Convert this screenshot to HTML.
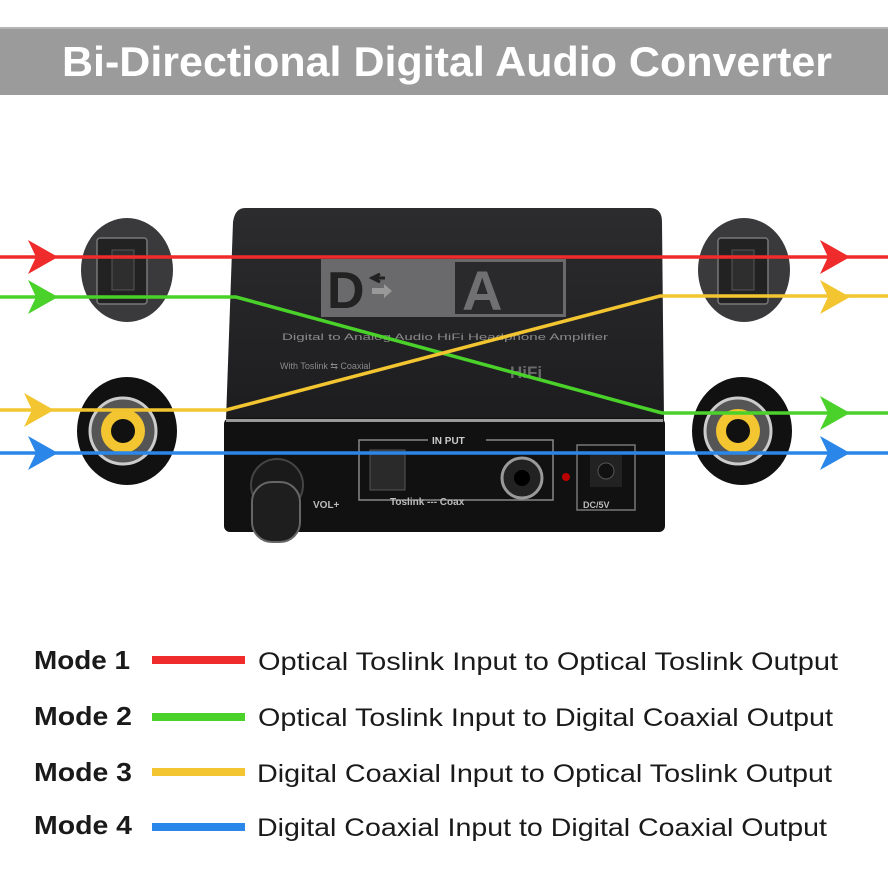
<!DOCTYPE html>
<html><head><meta charset="utf-8"><style>
html,body{margin:0;padding:0;background:#fff}
svg{display:block}
text{font-family:"Liberation Sans",sans-serif}
</style></head><body>
<svg width="888" height="888" viewBox="0 0 888 888" xmlns="http://www.w3.org/2000/svg">
<rect width="888" height="888" fill="#fff"/>
<rect x="0" y="27" width="888" height="68" fill="#9b9b9b"/>
<rect x="0" y="27" width="888" height="2" fill="#b5b5b5"/>
<text x="62" y="76" font-size="42" font-weight="bold" fill="#fff" textLength="770" lengthAdjust="spacingAndGlyphs">Bi-Directional Digital Audio Converter</text>

<defs>
<linearGradient id="top" x1="0" y1="0" x2="0" y2="1"><stop offset="0" stop-color="#2c2c2e"/><stop offset="1" stop-color="#1d1d1f"/></linearGradient>
</defs>
<path d="M245 208 H650 Q662 208 662 222 L664 420 H226 L233 222 Q235 208 245 208 Z" fill="url(#top)"/>
<rect x="321" y="259" width="245" height="58" fill="#6a6a6c"/>
<rect x="455" y="262" width="108" height="52" fill="#2a2a2c"/>
<text x="327" y="308" font-size="52" font-weight="bold" fill="#222">D</text>
<path d="M385 278 h-14 M380 274 l-8 4 8 4" stroke="#222" stroke-width="3" fill="none"/>
<rect x="372" y="288" width="12" height="6" fill="#999"/><path d="M384 284 l8 7 -8 7 z" fill="#999"/>
<text x="462" y="310" font-size="56" font-weight="bold" fill="#707072">A</text>
<text x="282" y="340" font-size="9" fill="#8a8a8a" textLength="326" lengthAdjust="spacingAndGlyphs">Digital to Analog Audio HiFi Headphone Amplifier</text>
<text x="280" y="369" font-size="9" fill="#8a8a8a">With Toslink ⇆ Coaxial</text>
<text x="510" y="378" font-size="17" font-weight="bold" fill="#6a6a6a">HiFi</text>
<rect x="224" y="418" width="441" height="114" rx="6" fill="#111"/>
<rect x="226" y="419" width="437" height="3" fill="#9a9a9a"/>
<circle cx="277" cy="485" r="26" fill="#1a1a1a" stroke="#444" stroke-width="2"/>
<rect x="252" y="482" width="48" height="60" rx="20" fill="#1e1e1e" stroke="#666" stroke-width="2"/>
<text x="313" y="508" font-size="10" font-weight="bold" fill="#bbb">VOL+</text>
<rect x="359" y="440" width="194" height="60" fill="none" stroke="#888" stroke-width="1.5"/>
<rect x="428" y="433" width="58" height="12" fill="#111"/>
<text x="432" y="444" font-size="10" font-weight="bold" fill="#ccc">IN PUT</text>
<rect x="370" y="450" width="35" height="40" fill="#2a2a2a" stroke="#555"/>
<circle cx="522" cy="478" r="20" fill="#222" stroke="#999" stroke-width="3"/>
<circle cx="522" cy="478" r="8" fill="#000"/>
<text x="390" y="505" font-size="10" font-weight="bold" fill="#bbb">Toslink --- Coax</text>
<circle cx="566" cy="477" r="4" fill="#b00"/>
<rect x="577" y="445" width="58" height="65" fill="none" stroke="#777" stroke-width="1.5"/>
<rect x="590" y="455" width="32" height="32" fill="#222"/>
<circle cx="606" cy="471" r="8" fill="#111" stroke="#555"/>
<text x="583" y="508" font-size="9" font-weight="bold" fill="#bbb">DC/5V</text>

<ellipse cx="127" cy="270" rx="46" ry="52" fill="#3a3a3c"/>
<rect x="97" y="238" width="50" height="66" rx="3" fill="#222" stroke="#777" stroke-width="1.5"/>
<rect x="112" y="250" width="22" height="40" fill="#2e2e2e" stroke="#555"/>
<ellipse cx="744" cy="270" rx="46" ry="52" fill="#3a3a3c"/>
<rect x="718" y="238" width="50" height="66" rx="3" fill="#222" stroke="#777" stroke-width="1.5"/>
<rect x="732" y="250" width="22" height="40" fill="#2e2e2e" stroke="#555"/>
<ellipse cx="127" cy="431" rx="50" ry="54" fill="#111"/>
<circle cx="123" cy="431" r="33" fill="#555" stroke="#ccc" stroke-width="3"/>
<circle cx="123" cy="431" r="22" fill="#f2c531"/>
<circle cx="123" cy="431" r="12" fill="#111"/>
<ellipse cx="742" cy="431" rx="50" ry="54" fill="#111"/>
<circle cx="738" cy="431" r="33" fill="#555" stroke="#ccc" stroke-width="3"/>
<circle cx="738" cy="431" r="22" fill="#f2c531"/>
<circle cx="738" cy="431" r="12" fill="#111"/>

<g fill="none" stroke-width="3.5">
<path d="M0 257 H888" stroke="#ef2b2b"/>
<path d="M0 297 H236 L662 413 H888" stroke="#4ad12a"/>
<path d="M0 410 H226 L660 296 H888" stroke="#f2c531"/>
<path d="M0 453 H888" stroke="#2a86e8"/>
</g>
<g>
<path d="M28 240 L58 257 L28 274 L36 257 Z" fill="#ef2b2b"/>
<path d="M28 280 L58 297 L28 314 L36 297 Z" fill="#4ad12a"/>
<path d="M24 393 L54 410 L24 427 L32 410 Z" fill="#f2c531"/>
<path d="M28 436 L58 453 L28 470 L36 453 Z" fill="#2a86e8"/>
<path d="M820 240 L850 257 L820 274 L828 257 Z" fill="#ef2b2b"/>
<path d="M820 280 L850 297 L820 314 L828 297 Z" fill="#f2c531"/>
<path d="M820 396 L850 413 L820 430 L828 413 Z" fill="#4ad12a"/>
<path d="M820 436 L850 453 L820 470 L828 453 Z" fill="#2a86e8"/>
</g>

<g font-size="25" fill="#1a1a1a">
<text x="34" y="669" font-weight="bold" font-size="26" textLength="96" lengthAdjust="spacingAndGlyphs">Mode 1</text>
<rect x="152" y="656" width="93" height="8" fill="#ef2b2b"/>
<text x="258" y="670" textLength="580" lengthAdjust="spacingAndGlyphs">Optical Toslink Input to Optical Toslink Output</text>
<text x="34" y="725" font-weight="bold" font-size="26" textLength="98" lengthAdjust="spacingAndGlyphs">Mode 2</text>
<rect x="152" y="713" width="93" height="8" fill="#4ad12a"/>
<text x="258" y="726" textLength="575" lengthAdjust="spacingAndGlyphs">Optical Toslink Input to Digital Coaxial Output</text>
<text x="34" y="781" font-weight="bold" font-size="26" textLength="98" lengthAdjust="spacingAndGlyphs">Mode 3</text>
<rect x="152" y="768" width="93" height="8" fill="#f2c531"/>
<text x="257" y="782" textLength="575" lengthAdjust="spacingAndGlyphs">Digital Coaxial Input to Optical Toslink Output</text>
<text x="34" y="834" font-weight="bold" font-size="26" textLength="98" lengthAdjust="spacingAndGlyphs">Mode 4</text>
<rect x="152" y="823" width="93" height="8" fill="#2a86e8"/>
<text x="257" y="836" textLength="570" lengthAdjust="spacingAndGlyphs">Digital Coaxial Input to Digital Coaxial Output</text>
</g>
</svg>
</body></html>
